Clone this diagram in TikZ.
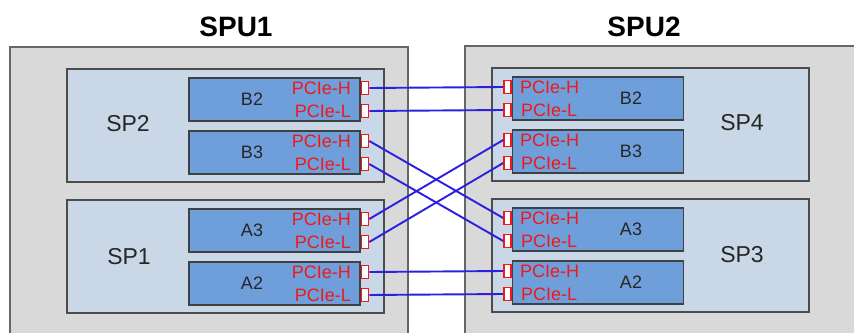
\documentclass[tikz,border=0pt]{standalone}
\usepackage{fontspec}
\setmainfont{Liberation Sans}
\usetikzlibrary{positioning}
\definecolor{spugray}{HTML}{D9D9D9}
\definecolor{spblue}{HTML}{C9D7E7}
\definecolor{cardblue}{HTML}{6F9FDB}
\definecolor{linkblue}{HTML}{2B1FE0}
\definecolor{portred}{HTML}{F01818}

\begin{document}
\begin{tikzpicture}[x=1pt, y=-1pt,
    spubox/.style={draw=black!60, fill=spugray, line width=1.2pt},
    spbox/.style={draw=black!70, fill=spblue, line width=1.2pt, minimum width=317pt, minimum height=113pt, inner sep=0pt},
    card/.style={draw=black!75, fill=cardblue, line width=1.2pt, minimum width=171pt, minimum height=43pt, inner sep=0pt},
    port/.style={draw=portred, fill=white, line width=1.6pt, minimum width=7pt, minimum height=13pt, inner sep=0pt},
    pcie/.style={text=portred, font=\fontsize{18}{18}\selectfont, inner sep=0pt},
    cardtext/.style={text=black!85, font=\fontsize{18}{18}\selectfont, inner sep=0pt},
    sptext/.style={text=black!85, font=\fontsize{23}{23}\selectfont, inner sep=0pt},
    title/.style={font=\fontsize{28}{28}\selectfont\bfseries, inner sep=0pt},
    link/.style={draw=linkblue, line width=1.9pt}]
                \clip (0,0) rectangle (854,332);
                % SPU1
                \draw[spubox] (10,47) rectangle (408,345);
                \node[title] (spu1) at (236,27) {SPU1};
                \node[spbox] (sp2) at (225.5,125.5) {};
                \node[sptext] (sp2t) at (128,124) {SP2};
                \node[spbox] (sp1) at (225.5,256.5) {};
                \node[sptext] (sp1t) at (129,257) {SP1};
                \foreach \c/\y in {B2/99.5, B3/152.5, A3/230.5, A2/283.5} {
                    \node[card] (l\c) at (274.5,\y) {};
                    \node[cardtext] (l\c t) at (252,\y) {\c};
                    \node[port] (l\c H) at (365,{\y-11.5}) {};
                    \node[port] (l\c L) at (365,{\y+11.5}) {};
                    \node[pcie, anchor=east] at (351,{\y-11.5}) {PCIe-H};
                    \node[pcie, anchor=east] at (351,{\y+11.5}) {PCIe-L};
                }
                % SPU2
                \draw[spubox] (465,46) rectangle (870,345);
                \node[title] (spu2) at (644,27) {SPU2};
                \node[spbox] (sp4) at (650.5,124.5) {};
                \node[sptext] (sp4t) at (742,123) {SP4};
                \node[spbox] (sp3) at (650.5,255.5) {};
                \node[sptext] (sp3t) at (742,255) {SP3};
                \foreach \c/\y in {B2/98.5, B3/151.5, A3/229.5, A2/282.5} {
                    \node[card] (r\c) at (598,\y) {};
                    \node[cardtext] (r\c t) at (631,\y) {\c};
                    \node[port] (r\c H) at (507.5,{\y-11.5}) {};
                    \node[port] (r\c L) at (507.5,{\y+11.5}) {};
                    \node[pcie, anchor=west] at (520,{\y-11.5}) {PCIe-H};
                    \node[pcie, anchor=west] at (521,{\y+11.5}) {PCIe-L};
                }
                % Links
                \draw[link] (lB2H.east) -- (rB2H.west);
                \draw[link] (lB2L.east) -- (rB2L.west);
                \draw[link] (lB3H.east) -- (rA3H.west);
                \draw[link] (lB3L.east) -- (rA3L.west);
                \draw[link] (lA3H.east) -- (rB3H.west);
                \draw[link] (lA3L.east) -- (rB3L.west);
                \draw[link] (lA2H.east) -- (rA2H.west);
                \draw[link] (lA2L.east) -- (rA2L.west);
\end{tikzpicture}
\end{document}
